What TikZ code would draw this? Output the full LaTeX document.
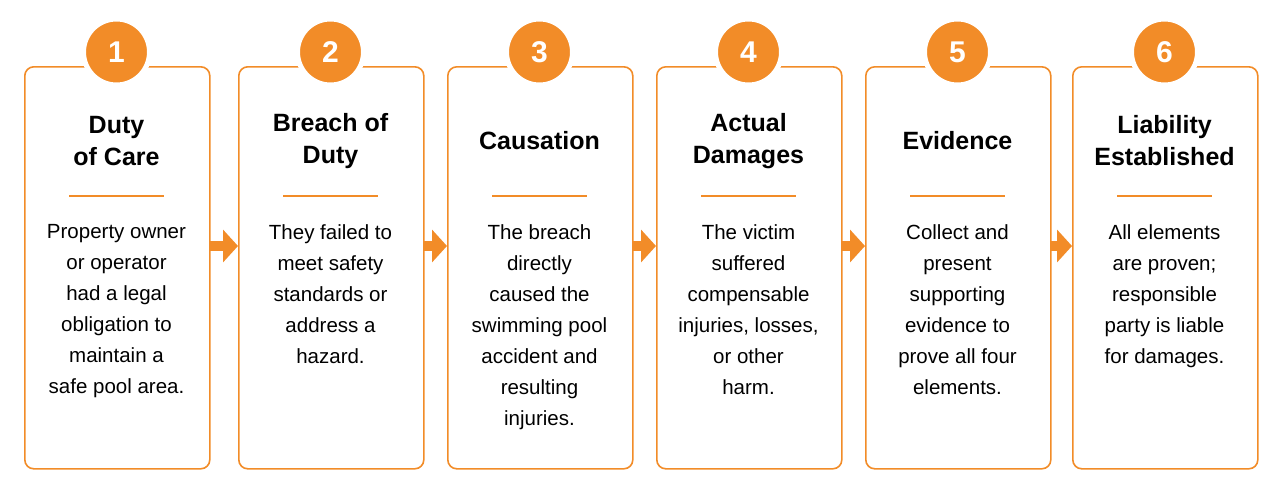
\documentclass[tikz,border=0pt]{standalone}
\usepackage{fontspec}
\setmainfont{Liberation Sans}
\usetikzlibrary{positioning,arrows.meta}
\definecolor{orng}{HTML}{F28C28}

\tikzset{
  card/.style={draw=orng, line width=1.6pt, rounded corners=9pt, minimum width=185pt, minimum height=402pt, anchor=north west},
  badge/.style={circle, fill=orng, draw=white, line width=5pt, minimum size=66pt, text=white, font=\fontsize{30}{30}\selectfont\bfseries},
  ttl/.style={align=center, font=\fontsize{25}{32}\selectfont\bfseries},
  body/.style={align=center, font=\fontsize{20.5}{31}\selectfont},
  flowarrow/.style={-{Triangle[length=15pt,width=32pt]}, orng, line width=10pt}
}

\newcommand{\stepcard}[5]{
        \node[card] (card#1) at (#2,-66) {};
        \node[badge] (num#1) at (#2+92.5,-52) {#1};
        \node[ttl] (ttl#1) at (#2+92.5,-141) {#3};
        \draw[orng, line width=1.3pt] (#2+45,-196) -- (#2+140,-196);
        \node[body, anchor=north] (txt#1) at (#2+92.5,-221) {#4};
        \coordinate (in#1) at (#2,-246);
        \coordinate (out#1) at (#2+185,-246);
        #5
}

\begin{document}
\begin{tikzpicture}[x=1pt,y=1pt]
        \useasboundingbox[fill=white] (0,0) rectangle (1280,-493);
        \stepcard{1}{24}{Duty\\of Care}{Property owner\\or operator\\had a legal\\obligation to\\maintain a\\safe pool area.}{}
        \stepcard{2}{238}{Breach of\\Duty}{They failed to\\meet safety\\standards or\\address a\\hazard.}{}
        \stepcard{3}{447}{Causation}{The breach\\directly\\caused the\\swimming pool\\accident and\\resulting\\injuries.}{}
        \stepcard{4}{656}{Actual\\Damages}{The victim\\suffered\\compensable\\injuries, losses,\\or other\\harm.}{}
        \stepcard{5}{865}{Evidence}{Collect and\\present\\supporting\\evidence to\\prove all four\\elements.}{}
        \stepcard{6}{1072}{Liability\\Established}{All elements\\are proven;\\responsible\\party is liable\\for damages.}{}

        \foreach \a/\b in {1/2,2/3,3/4,4/5,5/6}
            \draw[flowarrow] (out\a) -- (in\b);
\end{tikzpicture}
\end{document}
